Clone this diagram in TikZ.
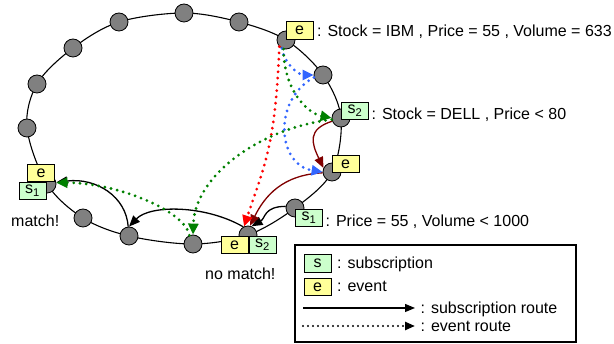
\documentclass[tikz,border=0pt]{standalone}
\usepackage{fontspec}
\setmainfont{Liberation Sans}
\usetikzlibrary{arrows.meta}
\definecolor{evY}{HTML}{FFFF99}
\definecolor{subG}{HTML}{CCFFCC}
\definecolor{rtRed}{HTML}{FF0000}
\definecolor{rtBlue}{HTML}{3366FF}
\definecolor{rtGreen}{HTML}{008000}
\definecolor{rtDark}{HTML}{800000}
\definecolor{brok}{HTML}{808080}
\begin{document}
\begin{tikzpicture}[x=1pt,y=-1pt, font=\fontsize{16}{18}\selectfont,
 broker/.style={circle, draw=black, line width=0.8pt, fill=brok, minimum size=18pt, inner sep=0pt},
 evbox/.style={draw=black, line width=0.9pt, fill=evY, minimum width=27pt, minimum height=17.5pt, inner sep=0pt},
 subbox/.style={evbox, fill=subG},
 lbl/.style={anchor=base west, inner sep=0pt},
 evroute/.style={line width=3.1pt, dash pattern=on 0pt off 6.3pt, line cap=round, -{Triangle[length=11pt,width=10pt]}},
 subroute/.style={line width=1.3pt, -{Triangle[length=11pt,width=9pt]}},
]
\useasboundingbox (0,0) rectangle (614,344);
% ring positions
\coordinate (p1) at (184,13);
\coordinate (p2) at (239,22);
\coordinate (p3) at (286,40);
\coordinate (p4) at (323,75);
\coordinate (p5) at (341,118);
\coordinate (p6) at (332,172);
\coordinate (p7) at (295,208);
\coordinate (p8) at (248,235);
\coordinate (p9) at (193,244);
\coordinate (p10) at (129,236);
\coordinate (p11) at (83,218);
\coordinate (p12) at (47,184);
\coordinate (p13) at (27,128);
\coordinate (p14) at (37,84);
\coordinate (p15) at (73,48);
\coordinate (p16) at (119,22);
\draw[line width=1.1pt] plot[smooth cycle, tension=0.55] coordinates {(p1) (p2) (p3) (p4) (p5) (p6) (p7) (p8) (p9) (p10) (p11) (p12) (p13) (p14) (p15) (p16)};
\foreach \i in {1,...,16} { \node[broker] (r\i) at (p\i) {}; }

% subscription routes
\draw[subroute, black] (r7.170) .. controls +(-22,0) and +(14,-8) .. (r8.68);
\draw[subroute, black] (r8.120) .. controls +(-38,-22) and +(21,-22) .. (r10.north);
\draw[subroute, black] (r10.95) .. controls +(-2,-30) and +(40,-5) .. (r12.10);
\draw[subroute, rtDark] (r5.200) .. controls +(-25,8) and +(-12,-25) .. (r6.155);
\draw[subroute, rtDark] (r6.185) .. controls +(-40,2) and +(15,-30) .. (r8.78);

% event routes
\draw[evroute, rtRed] (r3.225) .. controls +(-4,100) and +(20,-60) .. (r8.115);
\draw[evroute, rtBlue] (r3.245) .. controls +(2,15) and +(-15,0) .. (r4.180);
\draw[evroute, rtBlue] (r4.195) .. controls +(-42,23) and +(-45,-7) .. (r6.180);
\draw[evroute, rtGreen] (r3.255) .. controls +(0,40) and +(-25,-5) .. (r5.180);
\draw[evroute, rtGreen] (r5.190) .. controls +(-70,8) and +(2,-60) .. (r9.north);
\draw[evroute, rtGreen] (r9.112) .. controls +(-5,-25) and +(60,0) .. (r12.8);

% boxes
\node[evbox] (etop) at (299.5,30.5) {e};
\node[subbox] (s2box) at (355,111) {s\textsubscript{2}};
\node[evbox] (emid) at (345.5,164) {e};
\node[subbox] (s1box) at (309,218) {s\textsubscript{1}};
\node[evbox] (ematch) at (41,173) {e};
\node[subbox] (s1match) at (32.5,191) {s\textsubscript{1}};
\node[evbox] (enomatch) at (234.5,245) {e};
\node[subbox] (s2nomatch) at (262.5,245) {s\textsubscript{2}};

% labels
\node[lbl] (tibm) at (317,36.5) {: Stock = IBM , Price = 55 , Volume = 633};
\node[lbl] (tdell) at (371.5,120) {: Stock = DELL , Price < 80};
\node[lbl] (tprice) at (325.5,227) {: Price = 55 , Volume < 1000};
\node[lbl] (tmatch) at (11,227) {match!};
\node[lbl] (tnomatch) at (205,280) {no match!};

% legend
\draw[line width=1.1pt] (295,245) rectangle (576,342);
\node[subbox] (ls) at (317.5,263.5) {s};
\node[evbox] (le) at (317.5,287) {e};
\node[lbl] (tls) at (337,268.5) {: subscription};
\node[lbl] (tle) at (337,292) {: event};
\coordinate (la1) at (303,308);
\coordinate (la2) at (415,308);
\coordinate (lb1) at (303,326);
\coordinate (lb2) at (415,326);
\draw[line width=1.2pt, -{Triangle[length=10pt,width=8pt]}] (la1) -- (la2);
\draw[line width=2.4pt, dash pattern=on 0pt off 5pt, line cap=round, -{Triangle[length=10pt,width=8pt]}] (lb1) -- (lb2);
\node[lbl] (tlr) at (420.5,313.5) {: subscription route};
\node[lbl] (tler) at (420.5,331.5) {: event route};
\end{tikzpicture}
\end{document}
